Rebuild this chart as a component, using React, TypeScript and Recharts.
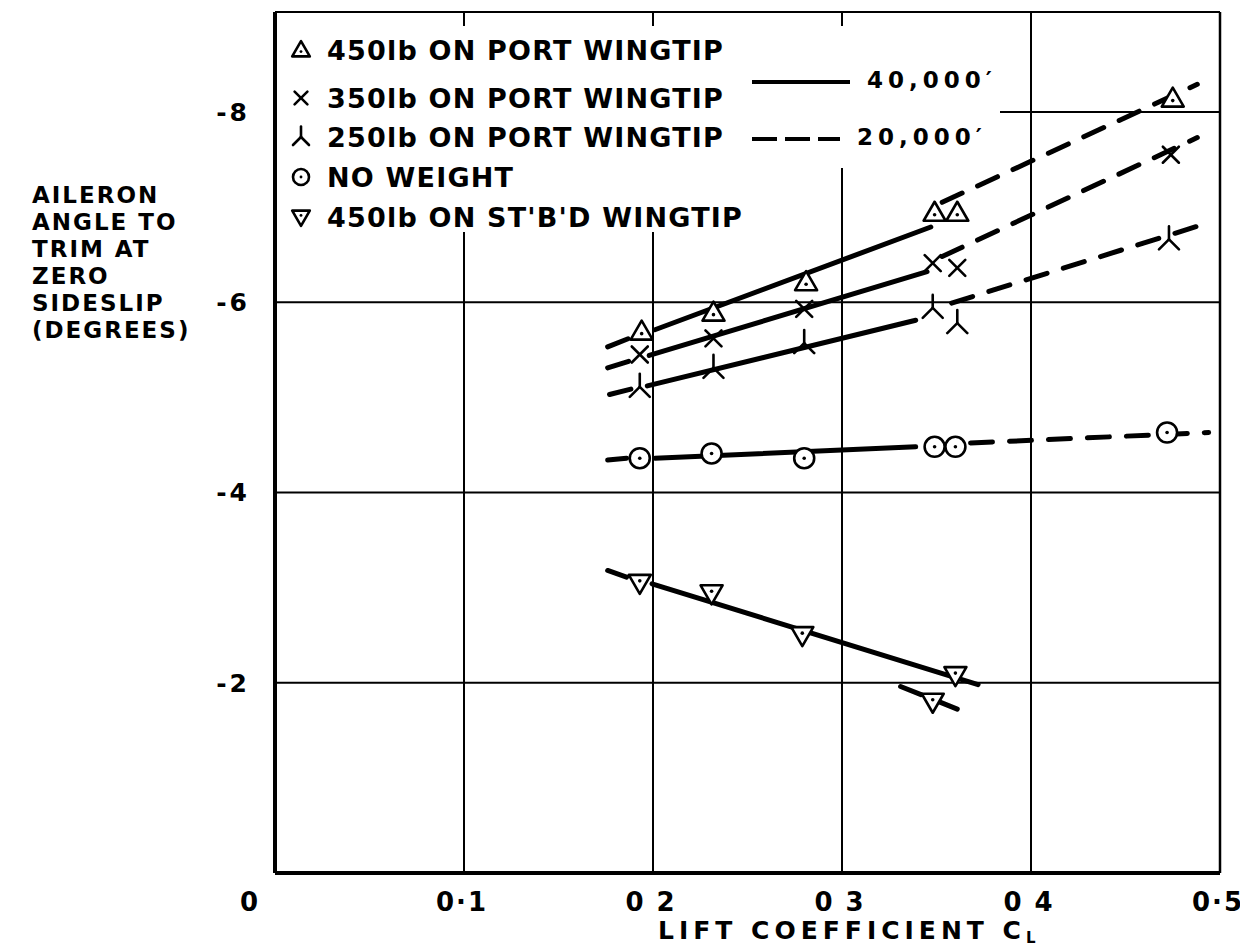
import React from 'react';
import { ComposedChart, Line, Scatter, XAxis, YAxis, CartesianGrid, ReferenceLine } from 'recharts';

const FONT = '"DejaVu Sans", sans-serif';

// axis ticks and captions
const xTicks = [0, 0.1, 0.2, 0.3, 0.4, 0.5];
const xTickLabels = ['0', '0·1', '0 2', '0 3', '0 4', '0·5'];
const yTicks = [-8, -6, -4, -2];
const yTickLabels = ['-8', '-6', '-4', '-2'];
const yTitleLines = ['AILERON', 'ANGLE TO', 'TRIM AT', 'ZERO', 'SIDESLIP', '(DEGREES)'];
const xTitle = 'LIFT COEFFICIENT C';
const xTitleSub = 'L';
const altitudes = ['40,000′', '20,000′'];

const seriesNames = [
  '450lb ON PORT WINGTIP',
  '350lb ON PORT WINGTIP',
  '250lb ON PORT WINGTIP',
  'NO WEIGHT',
  "450lb ON ST'B'D WINGTIP",
];
const markerKinds = ['triUp', 'cross', 'tri', 'circle', 'triDown'];

type Pt = { x: number; y: number | null };

// test points (lift coefficient, aileron angle in degrees)
const port450Pts: Pt[] = [
  { x: 0.194, y: -5.69 }, { x: 0.232, y: -5.89 }, { x: 0.281, y: -6.21 },
  { x: 0.349, y: -6.94 }, { x: 0.361, y: -6.94 }, { x: 0.475, y: -8.14 },
];
const port350Pts: Pt[] = [
  { x: 0.193, y: -5.45 }, { x: 0.232, y: -5.62 }, { x: 0.28, y: -5.93 },
  { x: 0.348, y: -6.41 }, { x: 0.361, y: -6.36 }, { x: 0.474, y: -7.55 },
];
const port250Pts: Pt[] = [
  { x: 0.193, y: -5.11 }, { x: 0.232, y: -5.31 }, { x: 0.28, y: -5.57 },
  { x: 0.348, y: -5.94 }, { x: 0.361, y: -5.78 }, { x: 0.473, y: -6.66 },
];
const noWeightPts: Pt[] = [
  { x: 0.193, y: -4.36 }, { x: 0.231, y: -4.41 }, { x: 0.28, y: -4.36 },
  { x: 0.349, y: -4.48 }, { x: 0.36, y: -4.48 }, { x: 0.472, y: -4.63 },
];
const stbd450Pts: Pt[] = [
  { x: 0.193, y: -3.05 }, { x: 0.231, y: -2.94 }, { x: 0.279, y: -2.5 },
  { x: 0.36, y: -2.08 }, { x: 0.348, y: -1.8 },
];

// faired lines, 40,000 ft (solid)
const port450Solid: Pt[] = [{ x: 0.201, y: -5.71 }, { x: 0.347, y: -6.79 }];
const port350Solid: Pt[] = [{ x: 0.198, y: -5.44 }, { x: 0.345, y: -6.32 }];
const port250Solid: Pt[] = [{ x: 0.197, y: -5.12 }, { x: 0.339, y: -5.81 }];
const noWeightSolid: Pt[] = [{ x: 0.201, y: -4.36 }, { x: 0.339, y: -4.48 }];
const stbd450Solid: Pt[] = [{ x: 0.1995, y: -3.04 }, { x: 0.372, y: -1.98 }];

// faired lines, 20,000 ft (dashed, null = gap)
const port450Dash: Pt[] = [
  { x: 0.176, y: -5.53 }, { x: 0.19, y: -5.64 }, { x: 0.27, y: null },
  { x: 0.353, y: -7.05 }, { x: 0.488, y: -8.29 },
];
const port350Dash: Pt[] = [
  { x: 0.176, y: -5.31 }, { x: 0.189, y: -5.39 }, { x: 0.27, y: null },
  { x: 0.353, y: -6.48 }, { x: 0.488, y: -7.73 },
];
const port250Dash: Pt[] = [
  { x: 0.177, y: -5.03 }, { x: 0.189, y: -5.09 }, { x: 0.27, y: null },
  { x: 0.358, y: -5.99 }, { x: 0.49, y: -6.81 },
];
const noWeightDash: Pt[] = [
  { x: 0.176, y: -4.34 }, { x: 0.186, y: -4.36 }, { x: 0.27, y: null },
  { x: 0.368, y: -4.52 }, { x: 0.494, y: -4.63 },
];
const stbd450Dash: Pt[] = [
  { x: 0.176, y: -3.18 }, { x: 0.186, y: -3.11 }, { x: 0.27, y: null },
  { x: 0.331, y: -1.96 }, { x: 0.369, y: -1.66 },
];

const pointSets = [port450Pts, port350Pts, port250Pts, noWeightPts, stbd450Pts];
const solidSets = [port450Solid, port350Solid, port250Solid, noWeightSolid, stbd450Solid];
const dashSets = [port450Dash, port350Dash, port250Dash, noWeightDash, stbd450Dash];

function Marker({ kind, cx, cy, s = 1 }: { kind: string; cx: number; cy: number; s?: number }) {
  const sw = 2.6;
  if (kind === 'triUp') {
    return (
      <g>
        <polygon points={`${cx},${cy - 11 * s} ${cx - 11 * s},${cy + 8 * s} ${cx + 11 * s},${cy + 8 * s}`}
          fill="#fff" stroke="#000" strokeWidth={sw} strokeLinejoin="round" />
        <circle cx={cx} cy={cy + 2 * s} r={1.8 * s} fill="#000" />
      </g>
    );
  }
  if (kind === 'triDown') {
    return (
      <g>
        <polygon points={`${cx - 11 * s},${cy - 8 * s} ${cx + 11 * s},${cy - 8 * s} ${cx},${cy + 11 * s}`}
          fill="#fff" stroke="#000" strokeWidth={sw} strokeLinejoin="round" />
        <circle cx={cx} cy={cy - 2 * s} r={1.8 * s} fill="#000" />
      </g>
    );
  }
  if (kind === 'cross') {
    const d = 8 * s;
    return (
      <g stroke="#000" strokeWidth={sw} strokeLinecap="round">
        <line x1={cx - d} y1={cy - d} x2={cx + d} y2={cy + d} />
        <line x1={cx - d} y1={cy + d} x2={cx + d} y2={cy - d} />
      </g>
    );
  }
  if (kind === 'tri') {
    return (
      <g stroke="#000" strokeWidth={sw} strokeLinecap="round" fill="none">
        <line x1={cx} y1={cy - 13 * s} x2={cx} y2={cy} />
        <line x1={cx} y1={cy} x2={cx - 10 * s} y2={cy + 10 * s} />
        <line x1={cx} y1={cy} x2={cx + 10 * s} y2={cy + 10 * s} />
      </g>
    );
  }
  return (
    <g>
      <circle cx={cx} cy={cy} r={10 * s} fill="#fff" stroke="#000" strokeWidth={sw} />
      <circle cx={cx} cy={cy} r={1.8 * s} fill="#000" />
    </g>
  );
}

const XTick = (props: any) => {
  const { x, y, payload } = props;
  const i = xTicks.indexOf(payload.value);
  const shift = payload.value === 0 ? -25 : -2;
  return (
    <text x={x + shift} y={y + 38} textAnchor="middle" fontFamily={FONT} fontWeight="bold"
      fontSize={26} letterSpacing={2} fill="#000">
      {xTickLabels[i]}
    </text>
  );
};

const YTick = (props: any) => {
  const { x, y, payload } = props;
  const i = yTicks.indexOf(payload.value);
  return (
    <text x={x - 25} y={y + 9} textAnchor="end" fontFamily={FONT} fontWeight="bold"
      fontSize={25} letterSpacing={3} fill="#000">
      {yTickLabels[i]}
    </text>
  );
};

export default function App() {
  const legendRows = [50, 98, 137, 177, 217];
  const titleRows = [195, 222, 249, 276, 303, 330];
  return (
    <div style={{ position: 'relative', width: 1240, height: 942 }}>
      <ComposedChart width={1240} height={942} margin={{ top: 4, right: 28, left: 0, bottom: 0 }}>
        <CartesianGrid stroke="#000" strokeWidth={2} fill="none" />
        <XAxis dataKey="x" type="number" domain={[0, 0.5]} ticks={xTicks} allowDataOverflow
          height={77} tickSize={0} tickMargin={0} tickLine={false}
          axisLine={{ stroke: '#000', strokeWidth: 4 }} tick={<XTick />} />
        <YAxis dataKey="y" type="number" domain={[-9.05, 0]} reversed ticks={yTicks} allowDataOverflow
          width={267} tickSize={0} tickMargin={0} tickLine={false}
          axisLine={{ stroke: '#000', strokeWidth: 4 }} tick={<YTick />} />
        <ReferenceLine y={-9.05} stroke="#000" strokeWidth={2} />
        <ReferenceLine x={0.5} stroke="#000" strokeWidth={2.5} />
        {solidSets.map((d, i) => (
          <Line key={'s' + i} data={d} dataKey="y" stroke="#000" strokeWidth={5}
            strokeLinecap="round" dot={false} activeDot={false} isAnimationActive={false} />
        ))}
        {dashSets.map((d, i) => (
          <Line key={'d' + i} data={d} dataKey="y" stroke="#000" strokeWidth={5}
            strokeDasharray="22 17" strokeLinecap="round" dot={false} activeDot={false}
            isAnimationActive={false} />
        ))}
        {pointSets.map((d, i) => (
          <Scatter key={'p' + i} name={seriesNames[i]} data={d} dataKey="y" isAnimationActive={false}
            shape={(p: any) => <Marker kind={markerKinds[i]} cx={p.cx} cy={p.cy} />} />
        ))}
      </ComposedChart>

      <svg width={1240} height={942} style={{ position: 'absolute', left: 0, top: 0, pointerEvents: 'none' }}>
        <g transform="translate(-8,-8)" fontFamily={FONT} fontWeight="bold" fill="#000">
          <rect x={277} y={26} width={483} height={206} fill="#fff" />
          <rect x={760} y={26} width={240} height={142} fill="#fff" />
          {seriesNames.map((name, i) => (
            <g key={name}>
              <Marker kind={markerKinds[i]} cx={301} cy={legendRows[i]} s={0.8} />
              <text x={327} y={legendRows[i] + 10} fontSize={27} letterSpacing={1.2}>{name}</text>
            </g>
          ))}
          <line x1={752} y1={82} x2={850} y2={82} stroke="#000" strokeWidth={4} />
          <text x={867} y={88} fontSize={23} letterSpacing={5}>{altitudes[0]}</text>
          <line x1={752} y1={139} x2={840} y2={139} stroke="#000" strokeWidth={4} strokeDasharray="25 8" />
          <text x={857} y={145} fontSize={23} letterSpacing={5}>{altitudes[1]}</text>
          {yTitleLines.map((t, i) => (
            <text key={t} x={32} y={titleRows[i] + 8} fontSize={23} letterSpacing={2}>{t}</text>
          ))}
          <text x={658} y={939} fontSize={25} letterSpacing={5}>
            {xTitle}
            <tspan dy={4} fontSize={15}>{xTitleSub}</tspan>
          </text>
        </g>
      </svg>
    </div>
  );
}
